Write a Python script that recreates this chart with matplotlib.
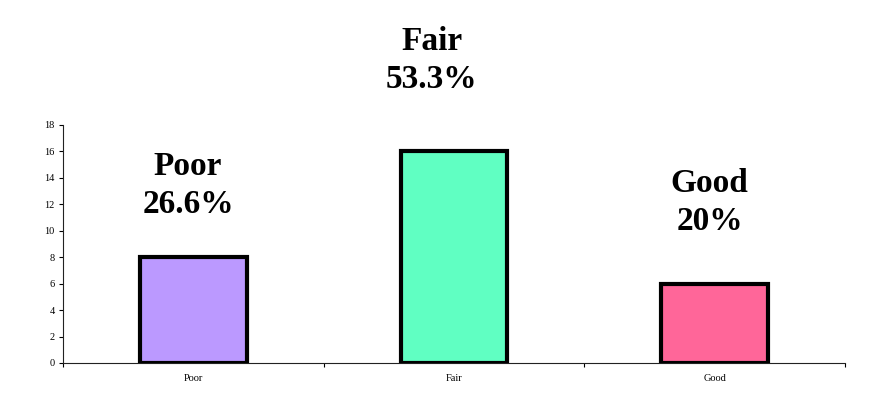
import matplotlib
matplotlib.use('Agg')
import matplotlib.pyplot as plt

categories = ['Poor', 'Fair', 'Good']
counts = [8, 16, 6]
percent_labels = ['26.6%', '53.3%', '20%']
bar_colors = ['#BB99FF', '#60FFC2', '#FF6699']
# where the big labels sit (data coords)
label_x = [-0.02, 0.915, 1.98]
label_y = [13.4, 22.9, 12.15]

plt.rcParams['font.family'] = ['Liberation Serif', 'DejaVu Serif']

fig = plt.figure(figsize=(8.75, 4.01), dpi=100)
ax = fig.add_axes([0.072, 0.0948, 0.8937, 0.5935])

x = range(len(categories))
ax.bar(x, counts, width=0.41, color=bar_colors, edgecolor='black',
       linewidth=3, zorder=3)

for i in x:
  ax.text(label_x[i], label_y[i], categories[i] + '\n' + percent_labels[i],
          ha='center', va='center', fontsize=24, fontweight='bold',
          linespacing=1.3, clip_on=False)

ax.set_xlim(-0.5, 2.5)
ax.set_ylim(0, 18)
ax.set_yticks(range(0, 19, 2))
ax.set_xticks([-0.5, 0.5, 1.5, 2.5])
ax.set_xticklabels([])
ax.set_xticks(list(x), minor=True)
ax.set_xticklabels(categories, minor=True)
ax.tick_params(axis='x', which='minor', length=0, labelsize=7.5, pad=8)
ax.tick_params(axis='x', which='major', length=3, width=0.8, direction='out')
ax.tick_params(axis='y', length=3, width=0.8, labelsize=7.5, pad=3)

ax.spines['top'].set_visible(False)
ax.spines['right'].set_visible(False)
ax.spines['left'].set_color('#222222')
ax.spines['bottom'].set_color('#222222')

plt.savefig('out.png', dpi=100)
